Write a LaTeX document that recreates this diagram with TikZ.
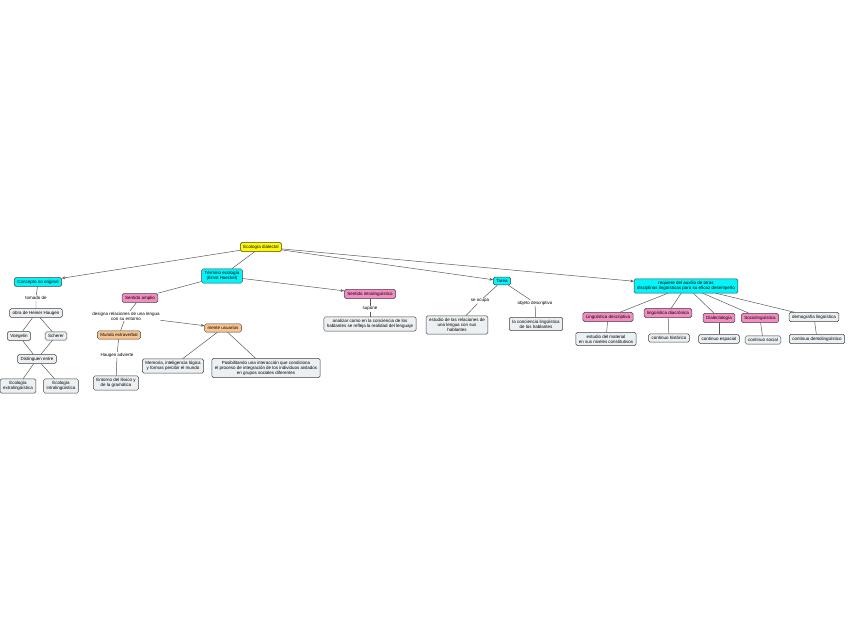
\documentclass[tikz,border=0pt]{standalone}
\usepackage{fontspec}
\setmainfont{Liberation Sans}
\usetikzlibrary{arrows.meta}
\definecolor{cYel}{RGB}{255,250,0}
\definecolor{cAqua}{RGB}{0,246,250}
\definecolor{cPink}{RGB}{243,140,192}
\definecolor{cOra}{RGB}{250,196,142}
\definecolor{cGry}{RGB}{236,240,242}
\tikzset{
  box/.style={draw=black!75, rounded corners=1.5bp, line width=0.5pt, inner xsep=3bp, inner ysep=2.4bp,
     font=\fontsize{4.5}{5.1}\selectfont, align=center},
  yel/.style={box, fill=cYel},
  cya/.style={box, fill=cAqua},
  pin/.style={box, fill=cPink},
  ora/.style={box, fill=cOra},
  gry/.style={box, fill=cGry},
  lbl/.style={font=\fontsize{4.5}{5.1}\selectfont, align=center, inner sep=0.8bp, fill=white},
  con/.style={draw=black!65, line width=0.5pt},
  arr/.style={con, -{Stealth[length=3.5bp,width=2.8bp]}}
}
\begin{document}
\begin{tikzpicture}[x=1bp,y=-1bp]
\useasboundingbox (0,0) rectangle (848,638);
% root
\node[yel] (root) at (261,247) {Ecología dialectal};
% left branch
\node[cya] (conc) at (38,282) {Concepto no original};
\node[lbl] (tom) at (36,298) {tomado de};
\node[gry] (obra) at (36,313) {obra de Heiner Haugen};
\node[gry] (voeg) at (19,336) {Voegelin};
\node[gry] (sche) at (56,336) {Scherer};
\node[gry] (dist) at (37,359) {Distinguen entre};
\node[gry] (ecoe) at (18,386) {Ecología\\extralingüística};
\node[gry] (ecoi) at (61,386) {Ecología\\intralingüística};
% termino
\node[cya] (term) at (222,276) {Término ecología\\(Ernst Haeckel)};
\node[pin] (samp) at (140,298) {Sentido amplio};
\node[lbl] (desi) at (126,316) {designa relaciones de una lengua\\con su entorno};
\node[ora] (mund) at (119,335) {Mundo extraverbal};
\node[lbl] (haug) at (117,355) {Haugen advierte};
\node[gry] (ento) at (116,383) {Entorno del léxico y\\de la gramática};
\node[ora] (ment) at (223,328) {mente usuarios};
\node[gry] (memo) at (173,366) {Memoria, inteligencia lógica\\y formas percibir el mundo};
\node[gry] (posi) at (266,368) {Posibilitando una interacción que condiciona\\el proceso de integración de los individuos aislados\\en grupos sociales diferentes};
\node[pin] (sint) at (370,294) {Sentido intralingüístico};
\node[lbl] (supo) at (370,309) {supone};
\node[gry] (anal) at (370,324) {analizar como en la conciencia de los\\hablantes se refleja la realidad del lenguaje};
% tarea
\node[cya] (tare) at (502,281) {Tarea};
\node[lbl] (ocup) at (480,301) {se ocupa};
\node[gry] (estu) at (457,325) {estudio de las relaciones de\\una lengua con sus\\hablantes};
\node[lbl] (obje) at (535,303) {objeto descriptivo};
\node[gry] (conci) at (536,324) {la conciencia lingüística\\de los hablantes};
% requiere
\node[cya] (requ) at (686,286) {requiere del auxilio de otras\\disciplinas lingüísticas para su eficaz desempeño};
\node[pin] (ldes) at (608,317) {Lingüística descriptiva};
\node[gry] (emat) at (606,339) {estudio del material\\en sus niveles constitutivos};
\node[pin] (ldia) at (668,313) {lingüística diacrónica};
\node[gry] (chis) at (669,338) {continuo histórico};
\node[pin] (dial) at (719,318) {Dialectología};
\node[gry] (cesp) at (719,339) {continuo espacial};
\node[pin] (soci) at (760,318) {Sociolingüística};
\node[gry] (csoc) at (763,340) {continuo social};
\node[gry] (demo) at (814,317) {demografía lingüística};
\node[gry] (cdem) at (817,339) {continuo demolingüístico};
% connectors
\draw[arr] (root) -- (conc);
\draw[con] (root) -- (term);
\draw[arr] (root) -- (tare);
\draw[arr] (root) -- (requ);
\draw[con] (conc) -- (tom) -- (obra);
\draw[con] (obra) -- (voeg);
\draw[con] (obra) -- (sche);
\draw[con] (voeg) -- (dist);
\draw[con] (sche) -- (dist);
\draw[con] (dist) -- (ecoe);
\draw[con] (dist) -- (ecoi);
\draw[con] (term) -- (samp);
\draw[arr] (term) -- (sint);
\draw[con] (samp) -- (desi) -- (mund);
\draw[arr] (desi) -- (ment);
\draw[con] (mund) -- (haug) -- (ento);
\draw[con] (ment) -- (memo);
\draw[con] (ment) -- (posi);
\draw[con] (sint) -- (supo) -- (anal);
\draw[con] (tare) -- (ocup) -- (estu);
\draw[con] (tare) -- (obje) -- (conci);
\draw[con] (requ) -- (ldes);
\draw[con] (requ) -- (ldia);
\draw[con] (requ) -- (dial);
\draw[con] (requ) -- (soci);
\draw[con] (requ) -- (demo);
\draw[con] (ldes) -- (emat);
\draw[con] (ldia) -- (chis);
\draw[con] (dial) -- (cesp);
\draw[con] (soci) -- (csoc);
\draw[con] (demo) -- (cdem);
\end{tikzpicture}
\end{document}
